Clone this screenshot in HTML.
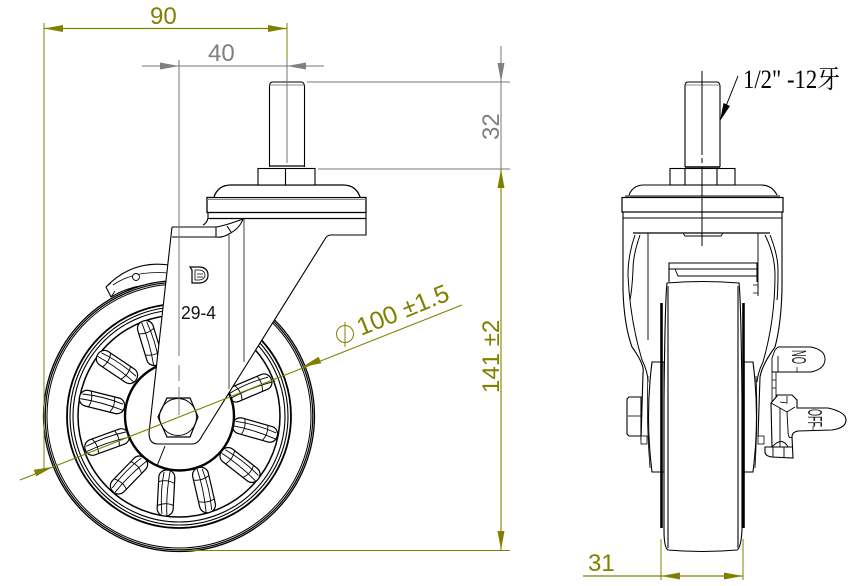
<!DOCTYPE html>
<html><head><meta charset="utf-8"><style>
html,body{margin:0;padding:0;background:#fff}
svg{display:block}
text{font-family:"Liberation Sans","Noto Sans CJK SC",sans-serif}
</style></head><body>
<svg width="862" height="586" viewBox="0 0 862 586" xmlns="http://www.w3.org/2000/svg">
<defs>
<g id="s" fill="none" stroke="#000" stroke-width="1">
<rect x="-23" y="-8" width="46" height="16" rx="7.500" fill="#fff" stroke-width="1.200"/>
<path d="M-21 -3Q0 -6 21 -3M-22 2Q0 0 22 3" stroke-width=".9"/>
<path d="M-13 -8Q-9 0 -12 8M11 -8Q14 0 10 8" stroke-width=".9"/>
</g>
</defs>
<!-- LEFT VIEW: brake -->
<g fill="#fff" stroke="#000" stroke-width="1.100">
<path d="M106 287Q132 260 169 265L169 284Q136 282 111 297Z"/>
<path d="M113 285Q135 270 168 273" fill="none" stroke-width=".8"/>
<path d="M106 287L111 283M111 297L115 291" fill="none" stroke-width=".8"/>
<circle cx="136" cy="277" r="3.500" stroke-width=".9"/>
</g>
<!-- wheel -->
<g fill="none" stroke="#000">
<circle cx="179" cy="416" r="135.500" fill="#fff" stroke-width="1.300"/>
<circle cx="179" cy="416" r="133.800" stroke-width="1.200"/>
<circle cx="179" cy="416" r="132" stroke-width="1"/>
<circle cx="179" cy="416" r="112" stroke-width="1.800"/>
<circle cx="179" cy="416" r="109" stroke-width="1.100"/>
<circle cx="179" cy="416" r="106" stroke-width="1.100"/>
<circle cx="179" cy="416" r="101" stroke-width="1.500"/>
</g>
<!-- spokes -->
<use href="#s" transform="translate(117,367) rotate(34)"/>
<use href="#s" transform="translate(102,402) rotate(14)"/>
<use href="#s" transform="translate(107,442) rotate(-20)"/>
<use href="#s" transform="translate(129,475) rotate(-46)"/>
<use href="#s" transform="translate(166,493) rotate(-87)"/>
<use href="#s" transform="translate(204,490) rotate(77)"/>
<use href="#s" transform="translate(240,465) rotate(38)"/>
<use href="#s" transform="translate(255,430) rotate(16)"/>
<use href="#s" transform="translate(250,388) rotate(-23)"/>
<use href="#s" transform="translate(150,343) rotate(73)"/>
<!-- hub -->
<circle cx="179.500" cy="416" r="54.500" fill="#fff" stroke="#000" stroke-width="2.400"/>
<path d="M165 446L157 466" stroke="#000" stroke-width="1" fill="none"/>
<!-- fork -->
<path d="M172 227L216 227Q222 227 243 219L366 219L366 235L330 235Q326 235 324 239L203 435Q200 444 192 444L158 444Q148 444 149 433Z" fill="#fff" stroke="none"/>
<g fill="none" stroke="#000" stroke-width="1.100">
<path d="M172 227L149 433Q149 444 158 444L192 444Q198 444 202 436L325 239Q327 235 331 235L366 235L366 212"/>
<path d="M172 227L216 227M172 237L216 237Q222 238 229 234Q240 228 243 219M216 227L216 237M216 227Q224 226 243 219M227 226L231 232M203 225Q207 223 208 218L208 212"/>
<path d="M229 235L229 389M244 219L244 362" stroke="#555"/>
<path d="M208 218.500L366 218.500" stroke-width="1.300"/>
<!-- flange -->
<rect x="207" y="197.500" width="159" height="15" fill="#fff" stroke-width="1.300"/>
<path d="M207 199.500L366 199.500" stroke="#888" stroke-width="1"/>
<path d="M214 197Q218 185 231 185L343 185Q356 185 360 197" fill="#fff" stroke-width="1.300"/>
<!-- nut, stud -->
<rect x="258" y="168.500" width="57" height="16.500" fill="#fff"/>
<path d="M285.500 169L285.500 185"/>
<path d="M269.500 167L269.500 86Q269.500 82 273 82L301 82Q304 82 304.500 86L304.500 167"/>
<path d="M269.500 85L304.500 85" stroke="#666" stroke-width=".7"/>
<path d="M270 166L304 166" stroke-width="1.200"/>
<!-- hex -->
<path d="M158 417L167 398L190 398L198 417L190 437L167 437Z" stroke-width="1.200" fill="#fff"/>
<circle cx="178" cy="417" r="18.500" stroke-width=".9"/>
<!-- logo -->
<path d="M190 267L200 267Q208 268 208 275Q208 282 200 283L192 283L192 270Z" stroke-width="1.200"/>
<path d="M195 270L200 270Q205 271 205 275Q205 279 200 280L195 280ZM197 274L203 274M197 277L203 277" stroke-width=".8"/>
</g>
<text x="181" y="319" font-size="18" textLength="35" lengthAdjust="spacingAndGlyphs" fill="#111">29-4</text>

<!-- RIGHT VIEW -->
<g fill="none" stroke="#000" stroke-width="1.100">
<!-- hubs -->
<path d="M652 362L664 362L664 472L652 472Q645 417 652 362Z" fill="#fff"/>
<path d="M744 362L753 362Q760 417 753 472L744 472Z" fill="#fff"/>
<path d="M648 376Q646 417 650 468M756 376Q758 417 755 468" stroke-width=".8"/>
<!-- tire and rim -->
<path d="M661.500 303L661.500 528" stroke-width="2.600"/>
<path d="M743.500 303L743.500 528" stroke-width="2.600"/>
<path d="M667 283Q665 300 664 400L664 530Q664 548 668 550Q702 553 737 550Q741 548 742 530L742 400Q741 300 739 283Q702 280 667 283Z" fill="#fff"/>
<path d="M668 286L668 548M738 286L738 548" stroke="#666" stroke-width="1.800"/>
<!-- fork sides -->
<path d="M623 212L623 290Q624 325 632 347Q645 365 643 373L641 440" fill="none"/>
<path d="M635 235Q628 255 628 275Q630 320 642 360Q648 372 648 382" stroke-width="1"/>
<path d="M640 235Q633 255 633 270Q632 290 630 300" stroke-width="1"/>
<path d="M782 212L782 290Q781 325 775 347Q762 365 760 377L758 437" fill="none"/>
<path d="M765 235Q775 255 775 275Q775 320 763 362Q758 372 757 382" stroke-width="1"/>
<path d="M770 235Q778 255 778 270Q778 290 777 300" stroke-width="1"/>
<path d="M648 233L648 340M758 233L758 296" stroke-width=".9"/>
<path d="M633 233L770 233" stroke-width="1.200"/>
<path d="M683 233L685 236L721 236L723 233" stroke-width=".9"/>
<path d="M623 218L782 218" stroke-width="1"/>
<!-- brake block -->
<path d="M669 282L669 263L757 263L757 282" />
<path d="M669 269L757 269M675 269L678 276L757 276" stroke-width=".9"/>
<path d="M753 285L758 285L758 293L753 293" stroke-width=".8"/>
<!-- flange -->
<rect x="622" y="197.500" width="161" height="14.500" fill="#fff" stroke-width="1.200"/>
<path d="M625 196L780 196" stroke-width=".9"/>
<path d="M629 195Q633 185 644 185L761 185Q772 185 777 195" fill="#fff"/>
<!-- nut, stud -->
<rect x="670" y="168.500" width="65" height="16.500" fill="#fff"/>
<path d="M685 169L685 185M717 169L717 185"/>
<path d="M685 167L685 86Q685 82 688 82L717 82Q719.500 82 720 86L720 167"/>
<path d="M685 85L720 85" stroke-width=".7" stroke="#666"/>
<path d="M685 167L720 167" stroke-width="1.400"/>
<!-- bolt -->
<path d="M641 397L629 397L627 399L627 434L629 436L641 436Z" fill="#fff"/>
<path d="M628 416L641 416" stroke-width=".8"/>
<rect x="641" y="436" width="6" height="8" stroke-width=".8" fill="#fff"/>
<rect x="758" y="436" width="6" height="8" stroke-width=".8" fill="#fff"/>
<!-- ON tab -->
<path d="M778 347L811 347Q825 350 825 359Q825 369 811 372L772 372" fill="#fff" stroke-width="1"/>
<path d="M772 372L772 358L775 350L778 347M778 356L778 372" stroke-width=".9"/>
<path d="M797 367L797 372" stroke-width=".7"/>
<!-- OFF tab & bracket -->
<path d="M772 372L772 403M776 372L776 398M772 380L776 380M772 388L776 388" stroke-width=".8"/>
<path d="M771 403L777 396L777 395L792 395L797 400L797 408L828 408Q846 412 846 420Q846 428 832 430L798 431Q792 432 792 437L793 458L772 457Q765 456 765 452L765 447L772 447L771 403Z" fill="#fff" stroke-width="1.100"/>
<path d="M771 403L787 412L795 407M787 412L788 430Q788 440 792 437M780 408L780 447M772 447Q782 436 788 447L792 447M765 447L792 447M773 447L773 457M784 447L784 457" stroke-width=".9"/>
<path d="M787 396L787 403L780 402" stroke-width=".8"/>
<path d="M813 426L813 431" stroke-width=".7"/>
</g>
<text transform="translate(806,364) rotate(-90)" font-size="20" textLength="14" lengthAdjust="spacingAndGlyphs" fill="#222">ON</text>
<text transform="translate(808,409) rotate(90)" font-size="20" textLength="18" lengthAdjust="spacingAndGlyphs" fill="#222">OFF</text>
<!-- centerline right -->
<path d="M702 71L702 155M702 158L702 163M702 167L702 246" stroke="#000" stroke-width="1" fill="none"/>
<!-- centerlines left / gray dims -->
<g stroke="#777" fill="none" stroke-width="1">
<path d="M179 60L179 356M179 365L179 381M179 387L179 415"/>
<path d="M287 60L287 163"/>
<path d="M142 66L324 66"/>
<path d="M307 82L510 82M318 169L510 169"/>
<path d="M501 46L501 169"/>
</g>
<g fill="#808080">
<path d="M179 66L160 62.500L160 69.500Z"/>
<path d="M287 66L306 62.500L306 69.500Z"/>
<path d="M501 82L497.500 63L504.500 63Z"/>
</g>
<text x="208" y="61" font-size="24" fill="#808080">40</text>
<text transform="translate(499,140) rotate(-90)" font-size="24" fill="#808080">32</text>
<!-- olive dims -->
<g stroke="#808000" fill="none" stroke-width="1">
<path d="M44 23L44 470"/>
<path d="M287 23L287 60"/>
<path d="M44 28.500L287 28.500" stroke-width="1.300"/>
<path d="M179 550.500L510 550.500" stroke-width="1.100"/>
<path d="M501 169L501 550" stroke-width="1.100"/>
<path d="M20 480L462 305" stroke-width="1.100"/>
<path d="M661 539L661 580M743 539L743 580"/>
<path d="M583 576L743 576" stroke-width="1.200"/>
<circle cx="345" cy="334" r="8.500"/>
<path d="M345 322L345 347"/>
</g>
<g fill="#808000">
<path d="M44 28.500L63 25L63 32Z" />
<path d="M287 28.500L268 25L268 32Z"/>
<path d="M501 169L497.500 188L504.500 188Z"/>
<path d="M501 550L497.500 531L504.500 531Z"/>
<path d="M53 466.900L33.700 469.700L36.300 476.300Z"/>
<path d="M302 367L318.700 356.700L321.300 363.300Z"/>
<path d="M661 576L680 572.500L680 579.500Z"/>
<path d="M743 576L724 572.500L724 579.500Z"/>
</g>
<text x="150" y="24" font-size="24" fill="#808000">90</text>
<text transform="translate(499,393) rotate(-90)" font-size="24" fill="#808000">141 ±2</text>
<text transform="translate(361,336) rotate(-22)" font-size="25" fill="#808000">100 ±1.5</text>
<text x="588" y="571" font-size="24" fill="#808000">31</text>
<!-- thread callout -->
<path d="M738 76L722 116" stroke="#000" stroke-width="1" fill="none"/>
<path d="M720 121L723.500 103L730 106Z" fill="#000"/>
<text x="743" y="88" font-size="26" textLength="97" lengthAdjust="spacingAndGlyphs" fill="#000" style='font-family:"Liberation Serif","Noto Serif CJK SC",serif'>1/2" -12牙</text>
</svg>
</body></html>
